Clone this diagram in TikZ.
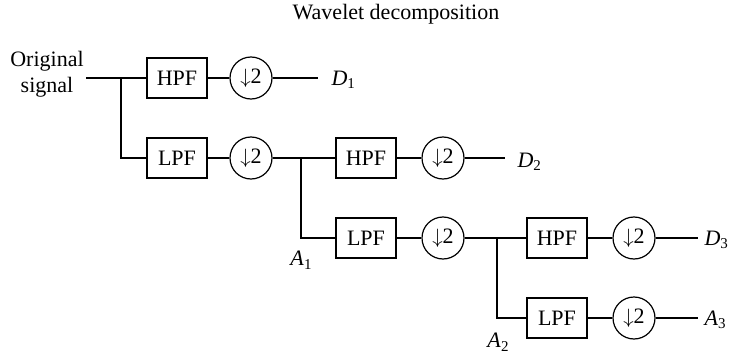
\documentclass[tikz,border=0pt]{standalone}
\usepackage{fontspec}
\setmainfont{Liberation Serif}
\newcommand{\outlbl}[2]{\textit{#1}\raisebox{-0.35ex}{\fontsize{15}{15}\selectfont #2}}
\newcommand{\dtwo}{$\downarrow$2}
\begin{document}
\begin{tikzpicture}[x=1pt,y=-1pt,line width=1.2pt,
  every node/.style={font=\fontsize{22}{26}\selectfont},
  filt/.style={draw,rectangle,minimum width=60pt,minimum height=40pt,inner sep=0pt},
  down/.style={draw,circle,minimum size=42pt,inner sep=0pt},
  lbl/.style={anchor=west,inner sep=0pt}]
\useasboundingbox (0,0) rectangle (732,356);
\node (title) at (396,14) {Wavelet decomposition};
\node[align=center,inner sep=0pt] (orig) at (47,74) {Original\\signal};
% row nodes
\node[filt] (hpf1) at (177,78) {HPF};
\node[down] (c1) at (251,78) {\dtwo};
\node[filt] (lpf1) at (177,158) {LPF};
\node[down] (c2) at (251,158) {\dtwo};
\node[filt] (hpf2) at (366,158) {HPF};
\node[down] (c3) at (443,158) {\dtwo};
\node[filt] (lpf2) at (366,238) {LPF};
\node[down] (c4) at (443,238) {\dtwo};
\node[filt] (hpf3) at (557,238) {HPF};
\node[down] (c5) at (634,238) {\dtwo};
\node[filt] (lpf3) at (557,318) {LPF};
\node[down] (c6) at (634,318) {\dtwo};
% coordinates
\coordinate (in) at (86,78);
\coordinate (b1) at (121,78);
\coordinate (b2) at (301,158);
\coordinate (b3) at (497,238);
\coordinate (e1) at (318,78);
\coordinate (e2) at (505,158);
\coordinate (e3) at (698,238);
\coordinate (e4) at (698,318);
% labels
\node[lbl] (d1) at (331,80) {\outlbl{D}{1}};
\node[lbl] (d2) at (517,162) {\outlbl{D}{2}};
\node[lbl] (d3) at (704,240) {\outlbl{D}{3}};
\node[lbl] (a3) at (704,320) {\outlbl{A}{3}};
\node (a1) at (301,260) {\outlbl{A}{1}};
\node (a2) at (498,342) {\outlbl{A}{2}};
% connectors
\draw (in) -- (hpf1);
\draw (b1) |- (lpf1);
\draw (hpf1) -- (c1);
\draw (c1) -- (e1);
\draw (lpf1) -- (c2);
\draw (c2) -- (hpf2);
\draw (b2) |- (lpf2);
\draw (hpf2) -- (c3);
\draw (c3) -- (e2);
\draw (lpf2) -- (c4);
\draw (c4) -- (hpf3);
\draw (b3) |- (lpf3);
\draw (hpf3) -- (c5);
\draw (c5) -- (e3);
\draw (lpf3) -- (c6);
\draw (c6) -- (e4);
\end{tikzpicture}
\end{document}
